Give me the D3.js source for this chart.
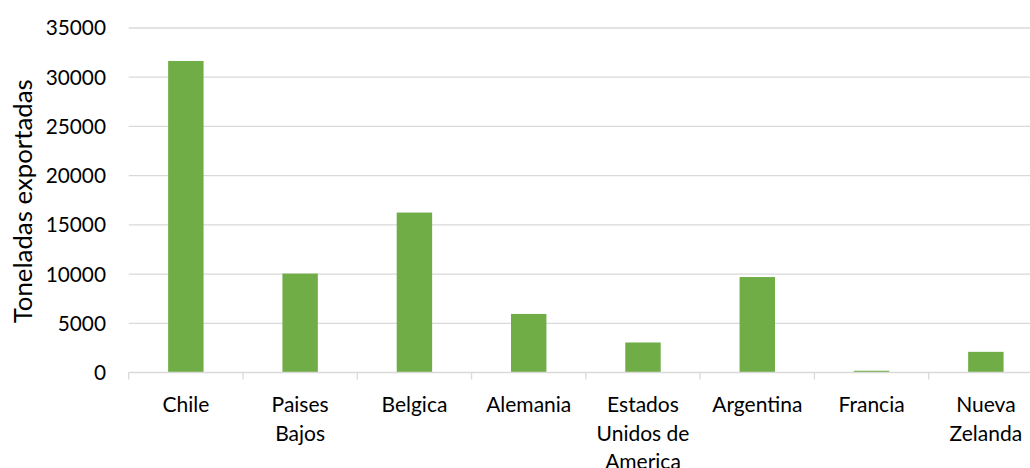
<!DOCTYPE html>
<html>
<head>
<meta charset="utf-8">
<script src="https://cdn.jsdelivr.net/npm/d3@7"></script>
<style>
  html, body { margin: 0; padding: 0; background: #fff; }
  svg { display: block; font-family: Lato, "Open Sans", sans-serif; }
</style>
</head>
<body>
<svg id="chart" width="1030" height="468"></svg>
<script>
const categories = ["Chile", "Paises Bajos", "Belgica", "Alemania", "Estados Unidos de America", "Argentina", "Francia", "Nueva Zelanda"];
const values = [31650, 10050, 16250, 5950, 3050, 9700, 180, 2100];
const yTicks = [0, 5000, 10000, 15000, 20000, 25000, 30000, 35000];
const yTitle = "Toneladas exportadas";

(function () {
const svg = d3.select("#chart");
const mLeft = 128.7, mRight = 1043, mTop = 28, mBottom = 372.5;

const x = d3.scaleBand().domain(categories).range([mLeft, mRight]).paddingInner(0.69).paddingOuter(0.345);
const y = d3.scaleLinear().domain([0, 35000]).range([mBottom, mTop]);

// gridlines
svg.append("g").selectAll("line").data(yTicks.filter(d => d > 0)).join("line")
  .attr("x1", mLeft).attr("x2", mRight)
  .attr("y1", d => y(d)).attr("y2", d => y(d))
  .attr("stroke", "#d9d9d9").attr("stroke-width", 1.3);

// bars
svg.append("g").selectAll("rect").data(categories).join("rect")
  .attr("x", d => x(d))
  .attr("width", x.bandwidth())
  .attr("y", (d, i) => y(values[i]))
  .attr("height", (d, i) => y(0) - y(values[i]))
  .attr("fill", "#70ad47");

// x axis line and ticks
const xAxisG = svg.append("g");
xAxisG.append("line").attr("x1", mLeft).attr("x2", mRight).attr("y1", mBottom).attr("y2", mBottom)
  .attr("stroke", "#d9d9d9").attr("stroke-width", 1.3);
const step = x.step();
const boundaries = d3.range(categories.length + 1).map(i => mLeft + i * step);
xAxisG.selectAll("line.tk").data(boundaries).join("line").attr("class", "tk")
  .attr("x1", d => d).attr("x2", d => d).attr("y1", mBottom).attr("y2", mBottom + 7)
  .attr("stroke", "#d9d9d9").attr("stroke-width", 1.3);

// x labels with wrapping
const maxW = 104;
const labels = svg.append("g").selectAll("text").data(categories).join("text")
  .attr("x", d => x(d) + x.bandwidth() / 2)
  .attr("y", 412)
  .attr("text-anchor", "middle")
  .attr("font-size", 21)
  .attr("fill", "#000");
labels.each(function(d) {
  const t = d3.select(this);
  const words = d.split(" ");
  let lines = [], cur = [];
  const probe = t.append("tspan");
  words.forEach(w => {
    const test = cur.concat([w]).join(" ");
    probe.text(test);
    if (probe.node().getComputedTextLength() > maxW && cur.length) {
      lines.push(cur.join(" "));
      cur = [w];
    } else cur.push(w);
  });
  lines.push(cur.join(" "));
  probe.remove();
  const cx = t.attr("x");
  lines.forEach((l, i) => {
    t.append("tspan").attr("x", cx).attr("dy", i === 0 ? 0 : 28.7).text(l);
  });
});

// y tick labels
svg.append("g").selectAll("text").data(yTicks).join("text")
  .attr("x", 106).attr("y", d => y(d))
  .attr("dy", "0.36em")
  .attr("text-anchor", "end")
  .attr("font-size", 20.8)
  .attr("fill", "#000")
  .text(d => d);

// y title
svg.append("text")
  .attr("transform", `translate(32,${(mTop + mBottom) / 2 + 1}) rotate(-90)`)
  .attr("text-anchor", "middle")
  .attr("font-size", 25.8)
  .attr("fill", "#000")
  .text(yTitle);
})();
</script>
</body>
</html>
